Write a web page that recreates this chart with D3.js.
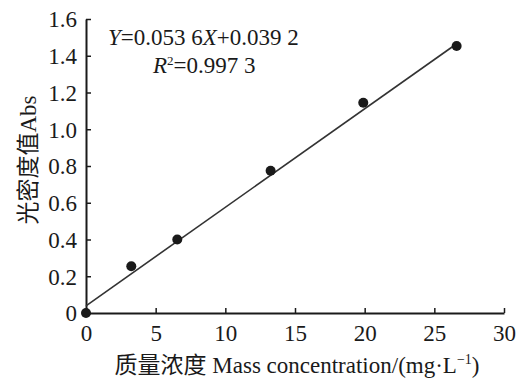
<!DOCTYPE html>
<meta charset="utf-8">
<head>
<script src="https://d3js.org/d3.v7.min.js"></script>
<style>
  body { margin: 0; background: #fff; }
  text, tspan { font-family: "Liberation Serif", "Times New Roman", serif; fill: #1a1a1a; }
  tspan.cjk, text.cjk { font-family: "Noto Sans CJK SC", serif; }
</style>
</head>
<body>
<svg id="chart" width="523" height="379"></svg>
<script>
// data
var conc = [0, 3.25, 6.55, 13.25, 19.9, 26.6];
var absorb = [0, 0.254, 0.40, 0.774, 1.144, 1.453];
var xTicks = [0, 5, 10, 15, 20, 25, 30];
var yTicks = [0, 0.2, 0.4, 0.6, 0.8, 1.0, 1.2, 1.4, 1.6];
var slope = 0.0536, intercept = 0.0392;
var fitRange = [0, 26.3];

var margin = {top: 19, right: 19, bottom: 66, left: 86};
var width = 523, height = 379;
var innerW = width - margin.left - margin.right;
var innerH = height - margin.top - margin.bottom;

var svg = d3.select("#chart");
var g = svg.append("g").attr("transform", `translate(${margin.left},${margin.top})`);

var x = d3.scaleLinear().domain([0, 30]).range([0, innerW]);
var y = d3.scaleLinear().domain([0, 1.6]).range([innerH, 0]);

// x axis, ticks pointing up
var xa = g.append("g").attr("transform", `translate(0,${innerH})`)
  .call(d3.axisBottom(x).tickValues(xTicks).tickSize(-5).tickSizeOuter(0).tickPadding(14).tickFormat(d3.format("d")));
// y axis, ticks pointing right
var ya = g.append("g")
  .call(d3.axisLeft(y).tickValues(yTicks).tickSize(-5).tickSizeOuter(0).tickPadding(9)
    .tickFormat(function(d){ return d === 0 ? "0" : d3.format(".1f")(d); }));

[xa, ya].forEach(function(a){
  a.attr("font-family", null).attr("font-size", null);
  a.select(".domain").attr("stroke", "#1a1a1a").attr("stroke-width", 2);
  a.selectAll(".tick line").attr("stroke", "#1a1a1a").attr("stroke-width", 1.5);
  a.selectAll(".tick text").style("font-size", "23px").attr("fill", "#1a1a1a");
});
xa.selectAll(".tick text").attr("dy", "0.6em");
ya.selectAll(".tick text").attr("dy", "0.34em");

// fit line
g.append("line")
  .attr("x1", x(fitRange[0])).attr("y1", y(slope * fitRange[0] + intercept))
  .attr("x2", x(fitRange[1])).attr("y2", y(slope * fitRange[1] + intercept))
  .attr("stroke", "#333").attr("stroke-width", 1.6);

// points
g.selectAll("circle").data(conc).enter().append("circle")
  .attr("cx", function(d){ return x(d); })
  .attr("cy", function(d, i){ return y(absorb[i]); })
  .attr("r", 5)
  .attr("fill", "#1a1a1a");

// equation
var eq = svg.append("text").attr("x", 108).attr("y", 45).style("font-size", "23px");
eq.append("tspan").style("font-style", "italic").text("Y");
eq.append("tspan").text("=0.053 6");
eq.append("tspan").style("font-style", "italic").text("X");
eq.append("tspan").text("+0.039 2");

var r2 = svg.append("text").attr("x", 153).attr("y", 73).style("font-size", "23px");
r2.append("tspan").style("font-style", "italic").text("R");
r2.append("tspan").attr("dy", -8).style("font-size", "13px").text("2");
r2.append("tspan").attr("dy", 8).text("=0.997 3");

// axis titles
var xt = svg.append("text").attr("x", (107 + 487) / 2).attr("y", 373)
  .attr("text-anchor", "middle").style("font-size", "23px");
xt.append("tspan").attr("class", "cjk").text("质量浓度");
xt.append("tspan").text(" Mass concentration/(mg·L");
xt.append("tspan").attr("dy", -9).style("font-size", "14px").text("−1");
xt.append("tspan").attr("dy", 9).text(")");

var yt = svg.append("text").attr("transform", "translate(36,160) rotate(-90)")
  .attr("text-anchor", "middle").style("font-size", "23px");
yt.append("tspan").attr("class", "cjk").text("光密度值");
yt.append("tspan").text("Abs");
</script>
</body>
